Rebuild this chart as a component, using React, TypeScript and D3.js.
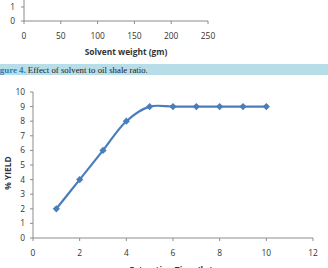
import React, { useEffect, useRef } from 'react';
import * as d3 from 'd3';

// upper panel (only its bottom edge is in view)
const solventTicks = [0, 50, 100, 150, 200, 250];
const solventYTicks = [0, 1];

// extraction time vs yield
const hours = [1, 2, 3, 4, 5, 6, 7, 8, 9, 10];
const yieldPct = [2, 4, 6, 8, 9, 9, 9, 9, 9, 9];
const timeTicks = [0, 2, 4, 6, 8, 10, 12];
const yieldTicks = [0, 1, 2, 3, 4, 5, 6, 7, 8, 9, 10];

const W = 328;
const H = 268;
const BLUE = '#4a7ebb';
const AXIS = '#8c8c8c';
const TXT = '#333';
const FONT = '"Open Sans", "Liberation Sans", sans-serif';
const FS = 8.4;

export default function App() {
  const ref = useRef<SVGSVGElement>(null);

  useEffect(() => {
    const svg = d3.select(ref.current);
    svg.html('');

    // ---- upper chart tail ----
    const x1 = d3.scaleLinear().domain([0, 250]).range([24, 208]);
    const y1 = d3.scaleLinear().domain([0, 1]).range([21, 7]);

    const top = svg.append('g');
    top.append('line').attr('x1', x1(0)).attr('x2', x1(250))
      .attr('y1', y1(0)).attr('y2', y1(0)).attr('stroke', AXIS);
    top.append('line').attr('x1', x1(0)).attr('x2', x1(0))
      .attr('y1', -5).attr('y2', y1(0)).attr('stroke', AXIS);
    top.selectAll('.xt').data(solventTicks).enter().append('line')
      .attr('x1', d => x1(d)).attr('x2', d => x1(d))
      .attr('y1', y1(0)).attr('y2', y1(0) + 3).attr('stroke', AXIS);
    top.selectAll('.xl').data(solventTicks).enter().append('text')
      .attr('x', d => x1(d)).attr('y', 39).attr('text-anchor', 'middle')
      .attr('font-size', FS).attr('fill', TXT).text(d => d);
    top.selectAll('.yt').data(solventYTicks).enter().append('line')
      .attr('x1', x1(0) - 3).attr('x2', x1(0))
      .attr('y1', d => y1(d)).attr('y2', d => y1(d)).attr('stroke', AXIS);
    top.selectAll('.yl').data(solventYTicks).enter().append('text')
      .attr('x', 15).attr('y', d => y1(d) + 3).attr('text-anchor', 'end')
      .attr('font-size', FS).attr('fill', TXT).text(d => d);
    top.append('text').attr('x', 126).attr('y', 55).attr('text-anchor', 'middle')
      .attr('font-size', FS).attr('font-weight', 'bold').attr('fill', TXT)
      .text('Solvent weight (gm)');

    // caption band, text sized to run up to x=148
    svg.append('rect').attr('x', 0).attr('y', 64).attr('width', W).attr('height', 11)
      .attr('fill', '#b7dde8');
    const cap = svg.append('text').attr('x', -8).attr('y', 72.5)
      .attr('font-family', '"Liberation Serif", "DejaVu Serif", serif')
      .attr('font-size', 10).attr('fill', '#222');
    cap.append('tspan').attr('fill', '#2f7fb5').attr('font-weight', 'bold').text('Figure 4.');
    cap.append('tspan').text(' Effect of solvent to oil shale ratio.');
    const capNode = cap.node() as SVGTextElement;
    const len = capNode.getComputedTextLength();
    if (len > 0) cap.attr('font-size', Math.min(11, (10 * 156) / len));

    // ---- lower chart ----
    const x = d3.scaleLinear().domain([0, 12]).range([33, 313]);
    const y = d3.scaleLinear().domain([0, 10]).range([238, 92]);
    const g = svg.append('g');

    g.append('line').attr('x1', x(0)).attr('x2', x(12))
      .attr('y1', y(0)).attr('y2', y(0)).attr('stroke', AXIS);
    g.append('line').attr('x1', x(0)).attr('x2', x(0))
      .attr('y1', y(10)).attr('y2', y(0)).attr('stroke', AXIS);
    g.selectAll('.xt').data(timeTicks).enter().append('line')
      .attr('x1', d => x(d)).attr('x2', d => x(d))
      .attr('y1', y(0)).attr('y2', y(0) + 3).attr('stroke', AXIS);
    g.selectAll('.xl').data(timeTicks).enter().append('text')
      .attr('x', d => x(d)).attr('y', 256).attr('text-anchor', 'middle')
      .attr('font-size', FS).attr('fill', TXT).text(d => d);
    g.selectAll('.yt').data(yieldTicks).enter().append('line')
      .attr('x1', x(0) - 3).attr('x2', x(0))
      .attr('y1', d => y(d)).attr('y2', d => y(d)).attr('stroke', AXIS);
    g.selectAll('.yl').data(yieldTicks).enter().append('text')
      .attr('x', 25).attr('y', d => y(d) + 3).attr('text-anchor', 'end')
      .attr('font-size', FS).attr('fill', TXT).text(d => d);
    g.append('text').attr('transform', 'translate(11,173) rotate(-90)')
      .attr('text-anchor', 'middle').attr('font-size', FS).attr('font-weight', 'bold')
      .attr('fill', TXT).text('% YIELD');
    g.append('text').attr('x', 171).attr('y', 272.5).attr('text-anchor', 'middle')
      .attr('font-size', FS).attr('font-weight', 'bold').attr('fill', TXT)
      .text('Extraction Time (hr)');

    const pts: [number, number][] = hours.map((h, i) => [h, yieldPct[i]]);
    const line = d3.line<[number, number]>()
      .x(d => x(d[0])).y(d => y(d[1]))
      .curve(d3.curveCatmullRom.alpha(0.5));
    g.append('path').attr('d', line(pts)).attr('fill', 'none')
      .attr('stroke', BLUE).attr('stroke-width', 2.2);
    // Excel-style diamond marker: square turned 45 degrees
    const marker = d3.symbol().type(d3.symbolSquare).size(26);
    g.selectAll('.pt').data(pts).enter().append('path')
      .attr('d', marker()).attr('fill', BLUE)
      .attr('transform', d => `translate(${x(d[0])},${y(d[1])}) rotate(45)`);
  }, []);

  return (
    <svg ref={ref} width={W} height={H}
      style={{ position: 'absolute', left: 0, top: 0, fontFamily: FONT, background: '#fff' }} />
  );
}
